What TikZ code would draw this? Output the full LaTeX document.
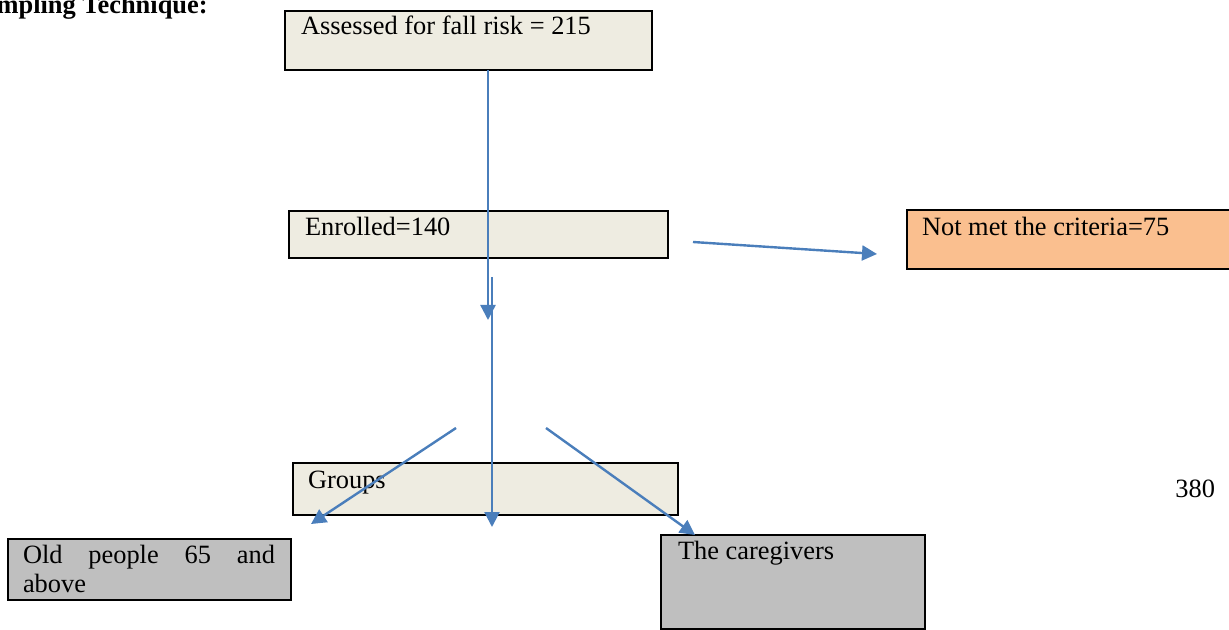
\documentclass[tikz,border=0pt]{standalone}
\usepackage{fontspec}
\setmainfont{Liberation Serif}
\usepackage{tikz}
\usetikzlibrary{arrows.meta,positioning}
\definecolor{boxbeige}{RGB}{238,236,225}
\definecolor{boxorange}{RGB}{250,191,143}
\definecolor{boxgray}{RGB}{191,191,191}
\definecolor{arrowblue}{RGB}{74,126,187}

\begin{document}
\begin{tikzpicture}[x=0.5pt,y=-0.5pt,
  font=\fontsize{13.2}{14.5}\selectfont,
  flow box/.style={draw,line width=1.1pt,anchor=north west,outer sep=0pt,inner ysep=0pt,align=flush left},
  flow arrow/.style={arrowblue,line width=1.2pt,-{Triangle[length=7.5pt,width=7.5pt]}}]
  \useasboundingbox (0,0) rectangle (1229,630);

  \node[anchor=base east,inner sep=0pt,font=\fontsize{13.2}{14.5}\selectfont\bfseries] (title) at (208,14) {mpling Technique:};
  \node[flow box,fill=boxbeige,inner xsep=8pt,text width=167.5pt,text height=12pt,text depth=17.5pt] (assess) at (285,11) {Assessed for fall risk = 215};
  \node[flow box,fill=boxbeige,inner xsep=8pt,text width=173.5pt,text height=12.5pt,text depth=11pt] (enrol) at (289,211) {Enrolled=140};
  \node[flow box,fill=boxorange,inner xsep=7.5pt,text width=147.5pt,text height=13pt,text depth=16.5pt] (notmet) at (907,210) {Not met the criteria=75};
  \node[flow box,fill=boxbeige,inner xsep=7.5pt,text width=177.5pt,text height=12.5pt,text depth=13.5pt] (groups) at (293,463) {Groups};
  \node[flow box,fill=boxgray,inner xsep=7.5pt,text width=126.5pt,text height=12pt,text depth=18.5pt] (old) at (8,539) {\makebox[126pt][l]{Old\hfill people\hfill 65\hfill and}\\above};
  \node[flow box,fill=boxgray,inner xsep=8.5pt,text width=115pt,text height=12pt,text depth=35pt] (care) at (661,535) {The caregivers};
  \node[anchor=base west,inner sep=0pt] (pagenum) at (1175,497) {380};

  % free ends of the arrows
  \coordinate (downend) at (488,320);
  \coordinate (downstart) at (492,277);
  \coordinate (groupsend) at (492,527);
  \coordinate (leftstart) at (456,428);
  \coordinate (rightstart) at (546,428);

  \draw[flow arrow] (assess.south -| downend) -- (downend);
  \draw[flow arrow] (downstart) -- (groupsend);
  \draw[flow arrow] ([xshift=12.5pt,yshift=-3.75pt]enrol.east) -- ([xshift=-15pt,yshift=-7.25pt]notmet.west);
  \draw[flow arrow] (leftstart) -- ([xshift=10pt,yshift=7.5pt]old.north east);
  \draw[flow arrow] (rightstart) -- ([xshift=17pt]care.north west);
\end{tikzpicture}
\end{document}
